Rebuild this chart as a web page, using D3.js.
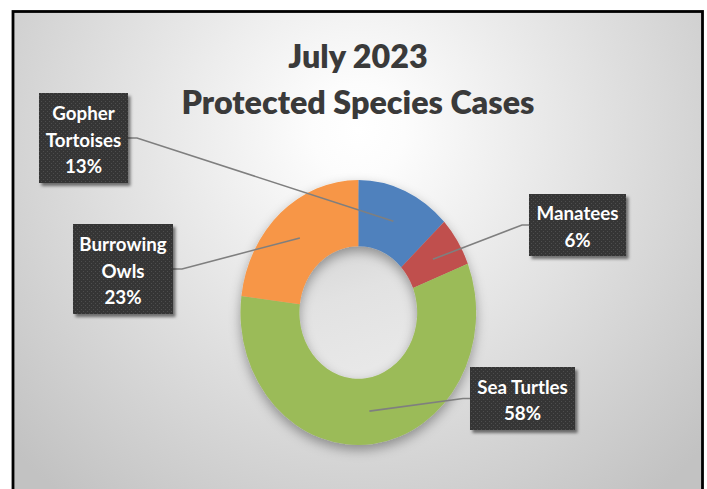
<!DOCTYPE html>
<html><head><meta charset="utf-8">
<script src="https://cdn.jsdelivr.net/npm/d3@7/dist/d3.min.js"></script>
<style>html,body{margin:0;padding:0;background:#fff;} svg{display:block}</style>
</head><body>
<svg id="chart" width="707" height="489"></svg>
<script>
// ---- data ----
const titleLines = ["July 2023", "Protected Species Cases"];
const categories = ["Gopher Tortoises", "Manatees", "Sea Turtles", "Burrowing Owls"];
const labelLines = [["Gopher", "Tortoises"], ["Manatees"], ["Sea Turtles"], ["Burrowing", "Owls"]];
const values = [13, 6, 58, 23];
const colors = ["#4F81BD", "#C0504D", "#9BBB59", "#F79646"];

// ---- layout ----
const W = 707, H = 489;
const cx = 358.3, cy = 312.5, rx = 117.8, ry = 132.5;
const labelBoxes = [
  {x: 39, y: 93, w: 89, h: 90, side: "right"},
  {x: 529, y: 194, w: 97, h: 62, side: "left"},
  {x: 470, y: 367, w: 105, h: 63, side: "left"},
  {x: 73, y: 224, w: 100, h: 90, side: "right"}
];
const FONT = "Lato, Carlito, Calibri, 'Open Sans', sans-serif";

const svg = d3.select("#chart");
const defs = svg.append("defs");

const grad = defs.append("radialGradient").attr("id", "bg")
  .attr("gradientUnits", "userSpaceOnUse")
  .attr("cx", 358).attr("cy", 130).attr("r", 470);
grad.append("stop").attr("offset", 0).attr("stop-color", "#ffffff");
grad.append("stop").attr("offset", 0.1).attr("stop-color", "#fcfcfc");
grad.append("stop").attr("offset", 1).attr("stop-color", "#c2c2c2");

const hole = defs.append("linearGradient").attr("id", "hole")
  .attr("x1", 0).attr("y1", 0).attr("x2", 0.3).attr("y2", 1);
hole.append("stop").attr("offset", 0).attr("stop-color", "#d6d6d6");
hole.append("stop").attr("offset", 0.45).attr("stop-color", "#e2e2e2");
hole.append("stop").attr("offset", 1).attr("stop-color", "#e8e8e8");

const pat = defs.append("pattern").attr("id", "dots")
  .attr("width", 4).attr("height", 4).attr("patternUnits", "userSpaceOnUse");
pat.append("rect").attr("width", 4).attr("height", 4).attr("fill", "#363636");
pat.append("rect").attr("x", 1).attr("y", 1).attr("width", 1).attr("height", 1).attr("fill", "#4e4e4e");
pat.append("rect").attr("x", 3).attr("y", 3).attr("width", 1).attr("height", 1).attr("fill", "#4e4e4e");

const sh = defs.append("filter").attr("id", "donutShadow")
  .attr("x", "-25%").attr("y", "-25%").attr("width", "150%").attr("height", "150%");
sh.append("feDropShadow").attr("dx", 0).attr("dy", 5).attr("stdDeviation", 6)
  .attr("flood-color", "#000").attr("flood-opacity", 0.35);

const bsh = defs.append("filter").attr("id", "boxShadow")
  .attr("x", "-20%").attr("y", "-20%").attr("width", "140%").attr("height", "140%");
bsh.append("feDropShadow").attr("dx", 2.5).attr("dy", 3).attr("stdDeviation", 1.6)
  .attr("flood-color", "#000").attr("flood-opacity", 0.5);

// background & frame
svg.append("rect").attr("x", 13).attr("y", 11.5).attr("width", 689.5).attr("height", 500)
  .attr("fill", "url(#bg)").attr("stroke", "#000").attr("stroke-width", 2.8);

// title
const title = svg.append("g").attr("font-family", FONT).attr("font-weight", 800)
  .attr("fill", "#3a3a3a").attr("text-anchor", "middle");
const tl = title.selectAll("text").data(titleLines).join("text")
  .attr("x", 358).attr("y", (d, i) => 67.5 + i * 46)
  .attr("font-size", 32).text(d => d);
{
  const n = tl.filter((d, i) => i === 1).node();
  const fs = 32 * 353 / n.getComputedTextLength();
  tl.attr("font-size", fs);
}

// donut
const pie = d3.pie().sort(null).value(d => d)(values);
const arc = d3.arc().innerRadius(rx * 0.5).outerRadius(rx);
const sy = ry / rx;
svg.append("ellipse").attr("cx", cx).attr("cy", cy)
  .attr("rx", rx * 0.5 + 1).attr("ry", ry * 0.5 + 1).attr("fill", "url(#hole)");
const outer = svg.append("g").attr("filter", "url(#donutShadow)");
const donut = outer.append("g").attr("transform", `translate(${cx},${cy}) scale(1,${sy})`);
donut.selectAll("path").data(pie).join("path")
  .attr("d", arc).attr("fill", (d, i) => colors[i]);

// leader lines
const total = d3.sum(values);
const leaders = svg.append("g").attr("fill", "none").attr("stroke", "#7f7f7f").attr("stroke-width", 1.6);
pie.forEach((d, i) => {
  const c = arc.centroid(d);
  const px = cx + c[0], py = cy + c[1] * sy;
  const b = labelBoxes[i];
  const ax = b.side === "right" ? b.x + b.w : b.x;
  const ay = b.y + b.h / 2;
  const stub = b.side === "right" ? ax + 9 : ax - 7;
  leaders.append("path").attr("d", d3.line()([[ax, ay], [stub, ay], [px, py]]));
});

// label boxes
const lab = svg.append("g").attr("font-family", FONT).attr("font-weight", 700);
const boxes = lab.selectAll("g").data(pie).join("g");
boxes.append("rect")
  .attr("x", (d, i) => labelBoxes[i].x).attr("y", (d, i) => labelBoxes[i].y)
  .attr("width", (d, i) => labelBoxes[i].w).attr("height", (d, i) => labelBoxes[i].h)
  .attr("fill", "url(#dots)").attr("filter", "url(#boxShadow)");
const lh = 26.5;
boxes.each(function(d, i) {
  const b = labelBoxes[i];
  const lines = labelLines[i].concat([Math.round(d.data / total * 100) + "%"]);
  const mid = b.y + b.h / 2;
  const first = mid + 8.5 - (lines.length - 1) * lh / 2;
  d3.select(this).selectAll("text").data(lines).join("text")
    .attr("x", b.x + b.w / 2).attr("y", (t, k) => first + k * lh)
    .attr("text-anchor", "middle").attr("fill", "#ffffff")
    .attr("font-size", 18).attr("class", "lbl").text(t => t);
});
{
  const ref = lab.selectAll("text.lbl").filter(t => t === "Sea Turtles").node();
  const fs = 18 * 90.7 / ref.getComputedTextLength();
  lab.selectAll("text.lbl").attr("font-size", fs);
}
</script>
</body></html>
